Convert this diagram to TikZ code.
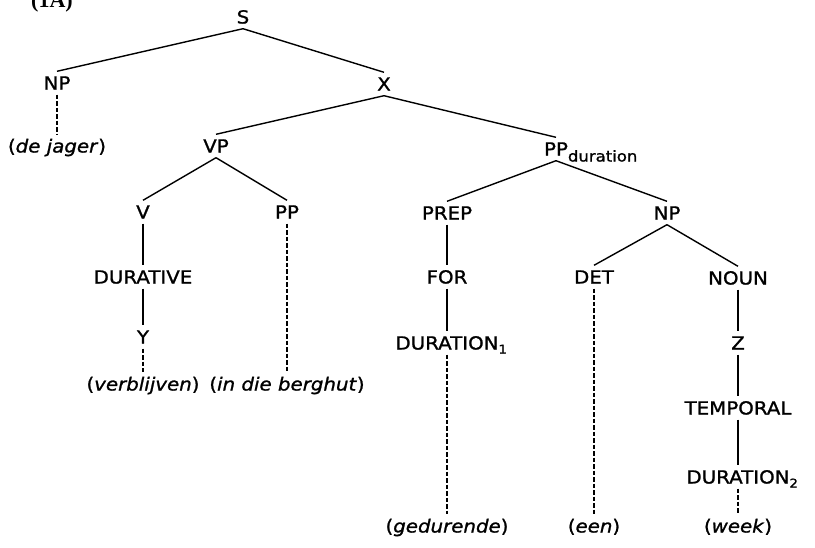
\documentclass[tikz,border=0pt]{standalone}
\usepackage{fontspec}
\setmainfont{DejaVu Sans}[FakeStretch=1.1,FakeBold=1.2]
\newfontfamily\labelfont{Liberation Serif}
\begin{document}
\begin{tikzpicture}[x=1pt,y=-1pt]
\tikzset{
  lab/.style={font=\fontsize{18}{20}\selectfont, text height=13pt, text depth=0pt, inner xsep=0pt, inner ysep=5pt},
  edge/.style={line width=1.4pt},
  dashedge/.style={line width=1.3pt, dash pattern=on 4.5pt off 2pt}
}
\useasboundingbox (0,0) rectangle (815,547);
\node[anchor=base, font=\labelfont\bfseries\fontsize{22}{24}\selectfont] (title) at (52,7) {(1A)};
% nodes
\node[lab] (S) at (243,17) {S};
\node[lab] (NP1) at (57,83) {NP};
\node[lab] (X) at (384,84) {X};
\node[lab] (dejager) at (57,146) {(\textit{de jager})};
\node[lab] (VP) at (216,146) {VP};
\node[lab] (PPd) at (556,149) {PP\rlap{\raisebox{-6pt}{\fontsize{15}{16}\selectfont duration}}};
\node[lab] (V) at (143,212) {V};
\node[lab] (PP) at (287,212) {PP};
\node[lab] (DUR) at (143,277) {DURATIVE};
\node[lab] (Y) at (143,337) {Y};
\node[lab] (verbl) at (143,384) {(\textit{verblijven})};
\node[lab] (berg) at (287,384) {(\textit{in die berghut})};
\node[lab] (PREP) at (447,213) {PREP};
\node[lab] (NP2) at (667,213) {NP};
\node[lab] (FOR) at (447,277) {FOR};
\node[lab] (DUR1) at (447,343) {DURATION\rlap{\raisebox{-4pt}{\fontsize{12}{13}\selectfont 1}}};
\node[lab] (gedur) at (447,526) {(\textit{gedurende})};
\node[lab] (DET) at (594,277) {DET};
\node[lab] (een) at (594,526) {(\textit{een})};
\node[lab] (NOUN) at (738,278) {NOUN};
\node[lab] (Z) at (738,343) {Z};
\node[lab] (TEMP) at (738,408) {TEMPORAL};
\node[lab] (DUR2) at (738,477) {DURATION\rlap{\raisebox{-4pt}{\fontsize{12}{13}\selectfont 2}}};
\node[lab] (week) at (738,526) {(\textit{week})};
% solid edges
\draw[edge] (S.south) -- (NP1.north);
\draw[edge] (S.south) -- (X.north);
\draw[edge] (X.south) -- (VP.north);
\draw[edge] (X.south) -- (PPd.north);
\draw[edge] (VP.south) -- (V.north);
\draw[edge] (VP.south) -- (PP.north);
\draw[edge] (PPd.south) -- (PREP.north);
\draw[edge] (PPd.south) -- (NP2.north);
\draw[edge] (NP2.south) -- (DET.north);
\draw[edge] (NP2.south) -- (NOUN.north);
\draw[edge] (V.south) -- (DUR.north);
\draw[edge] (DUR.south) -- (Y.north);
\draw[edge] (PREP.south) -- (FOR.north);
\draw[edge] (FOR.south) -- (DUR1.north);
\draw[edge] (NOUN.south) -- (Z.north);
\draw[edge] (Z.south) -- (TEMP.north);
\draw[edge] (TEMP.south) -- (DUR2.north);
% dashed edges
\draw[dashedge] (NP1.south) -- (dejager.north);
\draw[dashedge] (Y.south) -- (verbl.north);
\draw[dashedge] (PP.south) -- (berg.north);
\draw[dashedge] (DUR1.south) -- (gedur.north);
\draw[dashedge] (DET.south) -- (een.north);
\draw[dashedge] (DUR2.south) -- (week.north);
\end{tikzpicture}
\end{document}
